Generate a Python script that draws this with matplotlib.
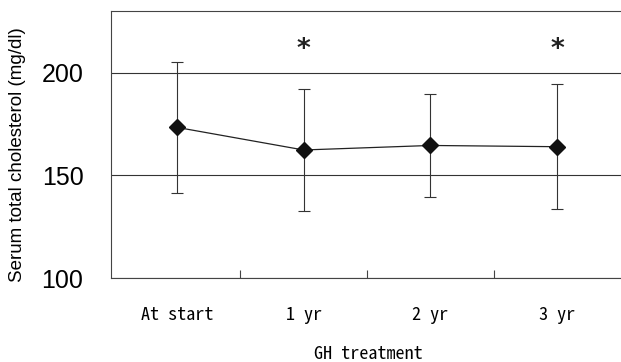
import matplotlib
matplotlib.use("Agg")
import matplotlib.pyplot as plt
from matplotlib.ticker import FixedLocator

categories = ["At start", "1 yr", "2 yr", "3 yr"]
means = [173.3, 162.3, 164.5, 163.9]
sd = [32.0, 29.5, 25.0, 30.3]
significant = [False, True, False, True]
y_ticks = [100, 150, 200]

mono = ['Noto Sans Mono CJK JP', 'Noto Sans CJK JP', 'DejaVu Sans']

fig = plt.figure(figsize=(6.21, 3.62), dpi=100)
ax = fig.add_axes([0.179, 0.232, 0.83, 0.738])

x = list(range(len(categories)))
ax.errorbar(x, means, yerr=sd, fmt='none', ecolor='#333333', elinewidth=0.8,
            capsize=4, capthick=0.8, zorder=2)
ax.plot(x, means, color='#222222', lw=0.9, marker='D', markersize=8.3,
        markerfacecolor='#111111', markeredgecolor='#111111', zorder=3)

for xi, s in zip(x, significant):
    if s:
        ax.text(xi, 211.0, '*', ha='center', va='center', fontsize=19,
                fontweight='bold', family='DejaVu Sans', color='#222222')

ax.set_xlim(-0.52, 3.55)
ax.set_ylim(100, 230)
ax.set_yticks(y_ticks)
ax.set_yticklabels([str(v) for v in y_ticks], family='Liberation Sans', fontsize=18)
ax.tick_params(axis='y', length=0, pad=20)
ax.yaxis.grid(True, color='#333333', lw=0.8)
ax.set_axisbelow(True)

ax.set_xticks(x)
ax.set_xticklabels(categories, family=mono, fontsize=13)
ax.tick_params(axis='x', which='major', length=0, pad=20)
ax.xaxis.set_minor_locator(FixedLocator([0.5, 1.5, 2.5]))
ax.tick_params(axis='x', which='minor', direction='in', length=6, width=0.8, color='#444444')

for side in ['left', 'bottom', 'top']:
    ax.spines[side].set_color('#444444')
    ax.spines[side].set_linewidth(0.8)
ax.spines['right'].set_visible(False)

ax.set_ylabel('Serum total cholesterol (mg/dl)', family='Liberation Sans', fontsize=13.5)
ax.yaxis.set_label_coords(-0.165, 0.46)
ax.set_xlabel('GH treatment', family=mono, fontsize=13, labelpad=15)

fig.savefig('out.png', dpi=100)
